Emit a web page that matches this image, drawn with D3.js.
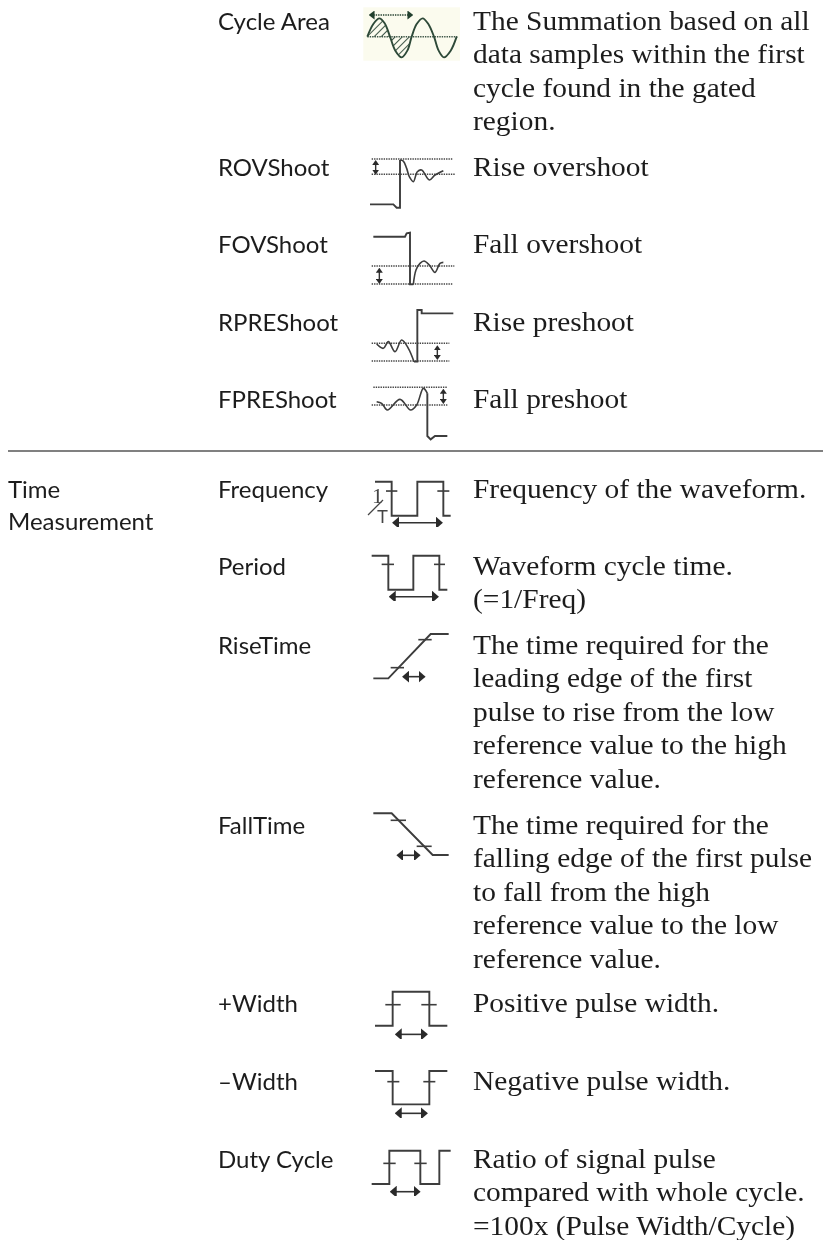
<!DOCTYPE html>
<html>
<head>
<meta charset="utf-8">
<script src="https://cdn.jsdelivr.net/npm/d3@7"></script>
<style>
html, body { margin: 0; padding: 0; background: #fff; }
svg { display: block; }
.name { font-family: Lato, "Open Sans", sans-serif; font-size: 24px; fill: #1c1c1c; }
.desc { font-family: "Liberation Serif", serif; font-size: 27px; fill: #1c1c1c; }
</style>
</head>
<body>
<div id="page"></div>
<script>
// textos
var groupLabel = ["Time", "Measurement"];
var names = ["Cycle Area", "ROVShoot", "FOVShoot", "RPREShoot", "FPREShoot",
	"Frequency", "Period", "RiseTime", "FallTime", "+Width", "\u2013Width", "Duty Cycle"];
var descriptions = [
	["The Summation based on all", "data samples within the first", "cycle found in the gated", "region."],
	["Rise overshoot"],
	["Fall overshoot"],
	["Rise preshoot"],
	["Fall preshoot"],
	["Frequency of the waveform."],
	["Waveform cycle time.", "(=1/Freq)"],
	["The time required for the", "leading edge of the first", "pulse to rise from the low", "reference value to the high", "reference value."],
	["The time required for the", "falling edge of the first pulse", "to fall from the high", "reference value to the low", "reference value."],
	["Positive pulse width."],
	["Negative pulse width."],
	["Ratio of signal pulse", "compared with whole cycle.", "=100x (Pulse Width/Cycle)"]
];

// trazas: [tiempo, nivel], unidades de la grilla del icono
var sineTrace = [[82,110],[100,72],[118,55],[134,70],[150,110],[166,152],[185,172],[202,152],[215,110],[230,72],[248,55],[265,72],[282,110],[296,152],[312,172],[332,152],[350,110]];
var lobeOne = [[82,110],[100,72],[118,55],[134,70],[150,110]];
var lobeTwo = [[150,110],[166,152],[185,172],[202,152],[215,110]];
var rovTrace = [[90,143],[160,143],[170,153],[180,153],[180,10]];
var rovWiggle = [[180,10],[190,13],[200,35],[208,60],[220,75],[232,45],[245,40],[268,70],[285,55],[310,42]];
var fovTrace = [[100,15],[195,15],[200,5],[210,3],[210,158],[220,158]];
var fovWiggle = [[220,158],[228,115],[240,95],[252,88],[268,100],[285,122],[300,95],[310,92]];
var rpreWiggle = [[110,102],[130,115],[145,95],[165,125],[185,90],[205,115],[222,155]];
var rpreTrace = [[222,155],[232,155],[232,0],[245,0],[245,10],[340,10]];
var fpreWiggle = [[110,45],[125,50],[142,70],[180,38],[212,70],[230,55],[250,5],[262,20]];
var fpreTrace = [[262,20],[262,148],[272,158],[285,148],[322,148]];
var freqTrace = [[105,0],[155,0],[155,102],[232,102],[232,0],[310,0],[310,102],[332,102]];
var periodTrace = [[95,0],[145,0],[145,102],[220,102],[220,0],[298,0],[298,102],[322,102]];
var riseTrace = [[100,133],[145,133],[272,0],[326,0]];
var fallTrace = [[100,0],[155,0],[278,125],[326,125]];
var plusTrace = [[105,102],[158,102],[158,0],[268,0],[268,102],[322,102]];
var minusTrace = [[105,0],[158,0],[158,100],[268,100],[268,0],[322,0]];
var dutyTrace = [[95,100],[148,100],[148,0],[241,0],[241,100],[298,100],[298,0],[332,0]];

// lineas punteadas de referencia [t0, t1, nivel]
var sineRefs = [[82,352,110]];
var rovRefs = [[95,338,7],[95,345,53]];
var fovRefs = [[95,343,103],[95,338,157]];
var rpreRefs = [[95,328,100],[95,328,153]];
var fpreRefs = [[100,322,2],[95,322,55]];

// marcas cortas [t0, t1, nivel]
var freqTicks = [[138,172,28],[292,328,28]];
var periodTicks = [[125,162,26],[282,315,26]];
var riseTicks = [[152,192,101],[235,275,17]];
var fallTicks = [[152,198,21],[230,275,99]];
var plusTicks = [[136,182,39],[244,290,39]];
var minusTicks = [[142,178,32],[250,286,32]];
var dutyTicks = [[130,167,38],[223,260,38]];

// flechas horizontales [t0, t1, nivel] y verticales [t, n0, n1]
var freqArrow = [155,310,123];
var periodArrow = [145,298,123];
var riseArrow = [185,258,128];
var fallArrow = [168,243,126];
var plusArrow = [163,265,128];
var minusArrow = [163,265,127];
var dutyArrow = [148,243,123];
var cycleArrow = [88,218,45];
var rovSpan = [107,12,52];
var fovSpan = [118,110,155];
var rpreSpan = [292,108,148];
var fpreSpan = [310,8,50];

var icons = [
	{ trace: sineTrace, refs: sineRefs, curved: true },
	{ trace: rovTrace, wiggle: rovWiggle, refs: rovRefs, span: rovSpan },
	{ trace: fovTrace, wiggle: fovWiggle, refs: fovRefs, span: fovSpan },
	{ trace: rpreTrace, wiggle: rpreWiggle, refs: rpreRefs, span: rpreSpan },
	{ trace: fpreTrace, wiggle: fpreWiggle, refs: fpreRefs, span: fpreSpan },
	{ trace: freqTrace, ticks: freqTicks, arrow: freqArrow },
	{ trace: periodTrace, ticks: periodTicks, arrow: periodArrow },
	{ trace: riseTrace, ticks: riseTicks, arrow: riseArrow },
	{ trace: fallTrace, ticks: fallTicks, arrow: fallArrow },
	{ trace: plusTrace, ticks: plusTicks, arrow: plusArrow },
	{ trace: minusTrace, ticks: minusTicks, arrow: minusArrow },
	{ trace: dutyTrace, ticks: dutyTicks, arrow: dutyArrow }
];

// layout
var svg_w = 823;
var svg_h = 1240;
var name_x = 218;
var desc_x = 473;
var group_x = 8;
var line_h = 33.4;
var desc_stretch = 1.09;	// la letra original es mas ancha
var row_base = [30, 176, 253, 331, 408, 498, 575, 654, 834, 1012, 1090, 1168];
var icon_top = [0, 156.7, 231.7, 310, 386.7, 481.7, 555.7, 634, 813.3, 991.7, 1071, 1150.7];
var rule_y = 451;

var svg = d3.select("#page").append("svg")
	.attr("width", svg_w)
	.attr("height", svg_h);

var defs = svg.append("defs");

defs.append("filter").attr("id", "soft")
	.append("feGaussianBlur").attr("stdDeviation", 0.35);

var hatch = defs.append("pattern")
	.attr("id", "hatch")
	.attr("patternUnits", "userSpaceOnUse")
	.attr("width", 5)
	.attr("height", 5)
	.attr("patternTransform", "rotate(45)");
hatch.append("line")
	.attr("x1", 0).attr("x2", 0)
	.attr("y1", 0).attr("y2", 5)
	.attr("stroke", "#3d5546")
	.attr("stroke-width", 2);

function addHead(id, color, w, h) {
	defs.append("marker")
		.attr("id", id)
		.attr("markerUnits", "userSpaceOnUse")
		.attr("viewBox", "0 0 10 10")
		.attr("preserveAspectRatio", "none")
		.attr("refX", 2)
		.attr("refY", 5)
		.attr("markerWidth", w)
		.attr("markerHeight", h)
		.attr("orient", "auto-start-reverse")
		.append("path")
		.attr("d", "M0,0L10,5L0,10Z")
		.attr("fill", color);
}
addHead("head", "#2b2b2b", 7, 12);
addHead("headSmall", "#2b2b2b", 5, 7);
addHead("headGreen", "#24402f", 6, 9);

// filas de texto
var textLayer = svg.append("g").attr("filter", "url(#soft)");

textLayer.append("g").selectAll("text")
	.data(groupLabel)
	.enter()
	.append("text")
	.attr("class", "name")
	.attr("x", group_x)
	.attr("y", function(d, i) { return row_base[5] + i * 32; })
	.text(function(d) { return d; });

textLayer.append("g").selectAll("text")
	.data(names)
	.enter()
	.append("text")
	.attr("class", "name")
	.attr("x", name_x)
	.attr("y", function(d, i) { return row_base[i]; })
	.text(function(d) { return d; });

var descRows = textLayer.append("g").selectAll("g")
	.data(descriptions)
	.enter()
	.append("g");

descRows.selectAll("text")
	.data(function(d, i) {
		return d.map(function(line, j) { return { line: line, y: row_base[i] + j * line_h }; });
	})
	.enter()
	.append("text")
	.attr("class", "desc")
	.attr("transform", function(d) {
		return "translate(" + desc_x + "," + d.y + ") scale(" + desc_stretch + ",1)";
	})
	.text(function(d) { return d.line; });

// separador
svg.append("line")
	.attr("x1", group_x)
	.attr("x2", svg_w)
	.attr("y1", rule_y)
	.attr("y2", rule_y)
	.attr("stroke", "#808080")
	.attr("stroke-width", 2);

// iconos
var time_scale = d3.scaleLinear().domain([0, 390]).range([340, 470]);

icons.forEach(function(icon, i) {
	var level_scale = d3.scaleLinear().domain([0, 159]).range([icon_top[i], icon_top[i] + 53]);
	var g = svg.append("g").attr("filter", "url(#soft)");
	var ink = icon.curved ? "#2d4a38" : "#3c3c3c";

	var line = d3.line()
		.x(function(d) { return time_scale(d[0]); })
		.y(function(d) { return level_scale(d[1]); });
	var smooth = d3.line()
		.curve(d3.curveCatmullRom)
		.x(function(d) { return time_scale(d[0]); })
		.y(function(d) { return level_scale(d[1]); });

	if (icon.curved) {
		// fondo crema del icono
		g.append("rect")
			.attr("x", time_scale(70))
			.attr("y", level_scale(22))
			.attr("width", time_scale(360) - time_scale(70))
			.attr("height", level_scale(182) - level_scale(22))
			.attr("fill", "#fbfbee");
		var area = d3.area()
			.curve(d3.curveCatmullRom)
			.x(function(d) { return time_scale(d[0]); })
			.y0(level_scale(110))
			.y1(function(d) { return level_scale(d[1]); });
		[lobeOne, lobeTwo].forEach(function(lobe) {
			g.append("path").attr("d", area(lobe)).attr("fill", "url(#hatch)");
		});
		g.append("line")
			.attr("x1", time_scale(cycleArrow[0] + 12))
			.attr("x2", time_scale(cycleArrow[1] - 12))
			.attr("y1", level_scale(cycleArrow[2]))
			.attr("y2", level_scale(cycleArrow[2]))
			.attr("stroke", "#24402f")
			.attr("stroke-width", 1.4)
			.attr("stroke-dasharray", "1.4 1")
			.attr("marker-start", "url(#headGreen)")
			.attr("marker-end", "url(#headGreen)");
	}

	(icon.refs || []).forEach(function(r) {
		g.append("line")
			.attr("x1", time_scale(r[0]))
			.attr("x2", time_scale(r[1]))
			.attr("y1", level_scale(r[2]))
			.attr("y2", level_scale(r[2]))
			.attr("stroke", icon.curved ? "#3d5546" : "#444")
			.attr("stroke-width", 1.5)
			.attr("stroke-dasharray", "1.4 1");
	});

	(icon.ticks || []).forEach(function(r) {
		g.append("line")
			.attr("x1", time_scale(r[0]))
			.attr("x2", time_scale(r[1]))
			.attr("y1", level_scale(r[2]))
			.attr("y2", level_scale(r[2]))
			.attr("stroke", ink)
			.attr("stroke-width", 1.6);
	});

	g.append("path")
		.attr("d", (icon.curved ? smooth : line)(icon.trace))
		.attr("fill", "none")
		.attr("stroke", ink)
		.attr("stroke-width", 1.9);

	if (icon.wiggle) {
		g.append("path")
			.attr("d", smooth(icon.wiggle))
			.attr("fill", "none")
			.attr("stroke", ink)
			.attr("stroke-width", 1.6);
	}

	if (icon.arrow) {
		g.append("line")
			.attr("x1", time_scale(icon.arrow[0] + 18))
			.attr("x2", time_scale(icon.arrow[1] - 18))
			.attr("y1", level_scale(icon.arrow[2]))
			.attr("y2", level_scale(icon.arrow[2]))
			.attr("stroke", "#333")
			.attr("stroke-width", 1.6)
			.attr("marker-start", "url(#head)")
			.attr("marker-end", "url(#head)");
	}

	if (icon.span) {
		g.append("line")
			.attr("x1", time_scale(icon.span[0]))
			.attr("x2", time_scale(icon.span[0]))
			.attr("y1", level_scale(icon.span[1] + 10))
			.attr("y2", level_scale(icon.span[2] - 10))
			.attr("stroke", "#333")
			.attr("stroke-width", 1.4)
			.attr("marker-start", "url(#headSmall)")
			.attr("marker-end", "url(#headSmall)");
	}
});

// 1/T del icono de frecuencia
var freq_scale = d3.scaleLinear().domain([0, 159]).range([icon_top[5], icon_top[5] + 53]);
var oneOverT = svg.append("g").attr("filter", "url(#soft)");
oneOverT.append("text")
	.attr("x", time_scale(96))
	.attr("y", freq_scale(64))
	.attr("font-family", "'Liberation Serif', serif")
	.attr("font-size", 22)
	.attr("fill", "#444")
	.text("1");
oneOverT.append("text")
	.attr("x", time_scale(111))
	.attr("y", freq_scale(124))
	.attr("font-family", "'Liberation Sans', sans-serif")
	.attr("font-size", 18)
	.attr("fill", "#444")
	.text("T");
oneOverT.append("line")
	.attr("x1", time_scale(84))
	.attr("x2", time_scale(129))
	.attr("y1", freq_scale(100))
	.attr("y2", freq_scale(55))
	.attr("stroke", "#444")
	.attr("stroke-width", 1.3);
</script>
</body>
</html>
